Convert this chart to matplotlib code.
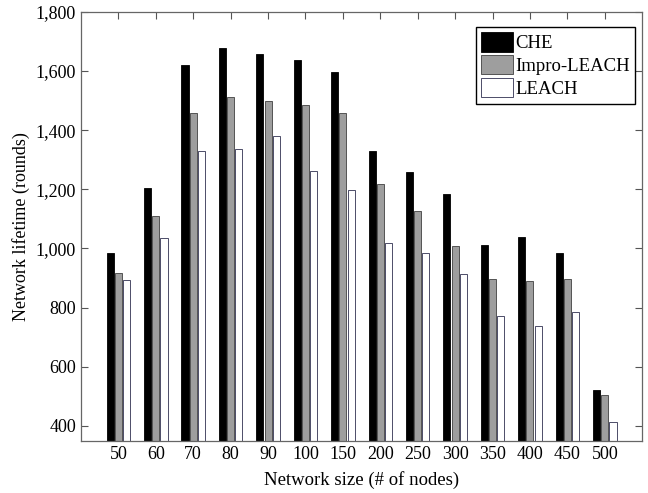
import matplotlib
matplotlib.use("Agg")
import matplotlib.pyplot as plt
import numpy as np
from matplotlib.ticker import FuncFormatter

categories = ["50", "60", "70", "80", "90", "100", "150", "200", "250", "300", "350", "400", "450", "500"]
che = [985, 1204, 1621, 1677, 1656, 1637, 1596, 1328, 1259, 1183, 1012, 1040, 985, 523]
impro = [917, 1110, 1457, 1513, 1498, 1486, 1457, 1218, 1128, 1009, 898, 891, 897, 503]
leach = [894, 1036, 1328, 1337, 1380, 1263, 1196, 1020, 986, 914, 773, 739, 786, 414]
series_names = ["CHE", "Impro-LEACH", "LEACH"]
yticks = [400, 600, 800, 1000, 1200, 1400, 1600, 1800]

plt.rcParams['font.family'] = ['Liberation Serif', 'DejaVu Serif']

fig = plt.figure(figsize=(6.48, 4.93), dpi=100)
ax = fig.add_axes([0.125, 0.106, 0.866, 0.870])

x = np.arange(1, len(categories) + 1)
w = 0.19
off = 0.22
ax.bar(x - off, che, w, color='black', edgecolor='black', linewidth=0.6, label=series_names[0], zorder=2)
ax.bar(x, impro, w, color='#9e9e9e', edgecolor='#404040', linewidth=0.6, label=series_names[1], zorder=2)
ax.bar(x + off, leach, w, color='white', edgecolor='#303050', linewidth=0.6, label=series_names[2], zorder=2)

ax.set_xlim(0, 15)
ax.set_ylim(350, 1800)
ax.set_xticks(x)
ax.set_xticklabels(categories)
ax.set_yticks(yticks)
ax.yaxis.set_major_formatter(FuncFormatter(lambda v, p: f"{int(v):,}"))
ax.tick_params(direction='in', top=True, right=True, labelsize=13, length=5, color='#555555', width=0.8)
for s in ax.spines.values():
    s.set_color('#666666')
    s.set_linewidth(0.9)

ax.set_xlabel("Network size (# of nodes)", fontsize=13.5, labelpad=6)
ax.set_ylabel("Network lifetime (rounds)", fontsize=13)

leg = ax.legend(loc='upper right', bbox_to_anchor=(0.988, 0.965), fontsize=13.5, frameon=True, fancybox=False,
                edgecolor='black', framealpha=1, handlelength=1.7, handleheight=1.2,
                handletextpad=0.1, borderpad=0.3, labelspacing=0.15, borderaxespad=0.0)
leg.get_frame().set_linewidth(1.0)

fig.savefig("out.png", dpi=100)
